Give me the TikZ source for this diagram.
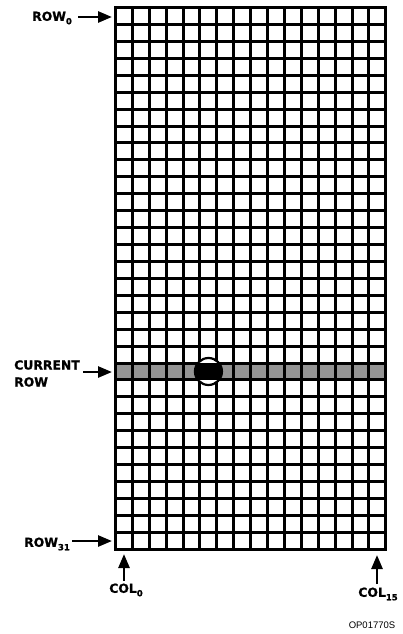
\documentclass[tikz,border=0pt]{standalone}
\usepackage{fontspec}
\setmainfont{Liberation Sans}
\newfontfamily\lblfont{DejaVu Sans}[BoldFeatures={FakeBold=1.2}]
\usetikzlibrary{arrows.meta}
\newcommand{\sbs}[1]{\raisebox{-3.5pt}{\fontsize{8.5}{9}\selectfont #1}}
\tikzset{
  lbl/.style={font=\lblfont\fontsize{12.4}{13}\selectfont\bfseries, inner sep=0pt, align=left},
  arr/.style={line width=2.6pt, -{Triangle[length=14pt,width=11pt]}},
  gridline/.style={line width=2.6pt, line cap=rect},
}
\begin{document}
\begin{tikzpicture}[x=1pt,y=-1pt]
\useasboundingbox (0,0) rectangle (403,634);
\def\cw{16.9}
\def\ch{16.93}
% shaded current row (row 21)
\fill[black!42] (115,{7+21*\ch}) rectangle (385.4,{7+22*\ch});
% grid (snapped to whole pixels)
\foreach \i in {0,...,16} {
  \pgfmathsetmacro{\xx}{round(115+\i*\cw)+0.5}
  \draw[gridline] (\xx,7.5) -- (\xx,549.5);
}
\foreach \j in {0,...,32} {
  \pgfmathsetmacro{\yy}{round(7+\j*\ch)+0.5}
  \draw[gridline] (115.5,\yy) -- (385.5,\yy);
}
% current cell circle
\coordinate (cur) at ({115.5+5.5*\cw},{7.5+21.5*\ch});
\fill[white] (cur) circle (13.5);
\begin{scope}
  \clip (cur) circle (13.5);
  \fill[black] (100,{7+21*\ch}) rectangle (300,{8+22*\ch});
\end{scope}
\draw[line width=2.2pt] (cur) circle (13.5);

% labels and arrows
\node[lbl, anchor=west] (row0) at (32,18) {ROW\sbs{0}};
\coordinate (r0s) at (78,17);
\coordinate (r0) at (112,17);
\draw[arr] (r0s) -- (r0);

\node[lbl, anchor=west] (cur1) at (14,365) {CURRENT};
\node[lbl, anchor=west] (cur2) at (14,382) {ROW};
\coordinate (crs) at (83,372);
\coordinate (cr) at (112,372);
\draw[arr] (crs) -- (cr);

\node[lbl, anchor=west] (row31) at (24,544) {ROW\sbs{31}};
\coordinate (r31s) at (72,541);
\coordinate (r31) at (112,541);
\draw[arr] (r31s) -- (r31);

\node[lbl] (col0) at (126,590) {COL\sbs{0}};
\coordinate (c0s) at (124,581);
\coordinate (c0) at (124,554);
\draw[arr] (c0s) -- (c0);

\node[lbl] (col15) at (378,594) {COL\sbs{15}};
\coordinate (c15s) at (377,584);
\coordinate (c15) at (377,555);
\draw[arr] (c15s) -- (c15);

\node[font=\fontsize{9.5}{10}\selectfont, inner sep=0pt] (op) at (372,625) {OP01770S};
\end{tikzpicture}
\end{document}
